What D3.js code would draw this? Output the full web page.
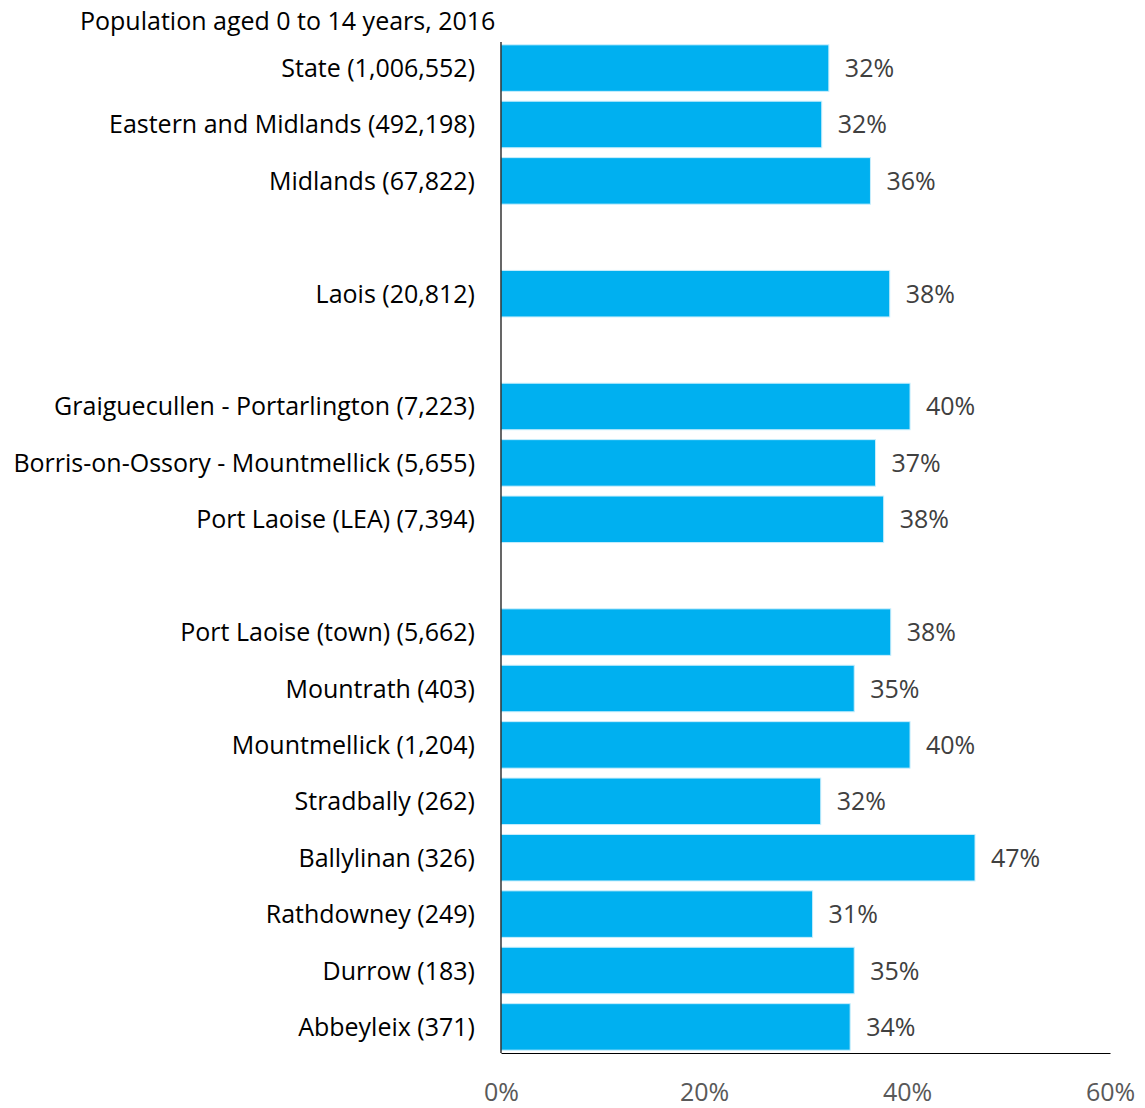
<!DOCTYPE html>
<html>
<head>
<meta charset="utf-8">
<script src="https://cdn.jsdelivr.net/npm/d3@7"></script>
<style>
  body { margin: 0; background: #fff; }
  svg text { font-family: "Open Sans", Lato, sans-serif; }
</style>
</head>
<body>
<svg id="chart" width="1145" height="1108"></svg>
<script>
// Areas (with population aged 0-14 in brackets); empty strings are spacer rows
const areas = [
  "State (1,006,552)",
  "Eastern and Midlands (492,198)",
  "Midlands (67,822)",
  "",
  "Laois (20,812)",
  "",
  "Graiguecullen - Portarlington (7,223)",
  "Borris-on-Ossory - Mountmellick (5,655)",
  "Port Laoise (LEA) (7,394)",
  "",
  "Port Laoise (town) (5,662)",
  "Mountrath (403)",
  "Mountmellick (1,204)",
  "Stradbally (262)",
  "Ballylinan (326)",
  "Rathdowney (249)",
  "Durrow (183)",
  "Abbeyleix (371)"
];
// Share of population aged 0 to 14 (null = spacer row)
const shares = [
  0.323, 0.316, 0.364, null, 0.383, null,
  0.403, 0.369, 0.377, null,
  0.384, 0.348, 0.403, 0.315, 0.467, 0.307, 0.348, 0.344
];
const xTicks = [0, 0.2, 0.4, 0.6];
const title = "Population aged 0 to 14 years, 2016";

const svg = d3.select("#chart");
const plotLeft = 501, plotRight = 1110, plotTop = 42, plotBottom = 1053;
const fontSize = 25;

const rows = areas.map((name, i) => ({ key: "r" + i, name, value: shares[i] }));

const x = d3.scaleLinear().domain([0, 0.6]).range([plotLeft, plotRight]);
const y = d3.scaleBand().domain(rows.map(d => d.key))
  .range([plotTop, plotBottom]).paddingInner(0.175).paddingOuter(0.05);

const pct = d3.format(".0%");

// Title
svg.append("text")
  .attr("x", 80).attr("y", 30)
  .attr("font-size", fontSize).attr("fill", "#000")
  .text(title);

// Bars
const data = rows.filter(d => d.value != null);
svg.append("g").selectAll("rect").data(data).join("rect")
  .attr("x", x(0))
  .attr("y", d => y(d.key))
  .attr("width", d => x(d.value) - x(0))
  .attr("height", y.bandwidth())
  .attr("fill", "#00B0F0")
  .attr("stroke", "#c9eefc")
  .attr("stroke-width", 1);

// Value labels
svg.append("g").selectAll("text").data(data).join("text")
  .attr("x", d => x(d.value) + 16)
  .attr("y", d => y(d.key) + y.bandwidth() / 2)
  .attr("dy", "0.36em")
  .attr("font-size", fontSize).attr("fill", "#404040")
  .text(d => pct(d.value));

// Category labels
svg.append("g").selectAll("text").data(rows.filter(d => d.name)).join("text")
  .attr("x", plotLeft - 26)
  .attr("y", d => y(d.key) + y.bandwidth() / 2)
  .attr("dy", "0.36em")
  .attr("text-anchor", "end")
  .attr("font-size", fontSize).attr("fill", "#000")
  .text(d => d.name);

// X axis
const xAxis = svg.append("g")
  .attr("transform", `translate(0,${plotBottom})`)
  .call(d3.axisBottom(x).tickValues(xTicks).tickFormat(pct).tickSize(0).tickPadding(30));
xAxis.select(".domain").attr("stroke", "#000").attr("stroke-width", 1.2);
xAxis.selectAll(".tick text")
  .attr("font-size", fontSize).attr("fill", "#595959")
  .attr("font-family", "'Open Sans', Lato, sans-serif");

// Y axis line
svg.append("line")
  .attr("x1", plotLeft).attr("x2", plotLeft)
  .attr("y1", plotTop).attr("y2", plotBottom)
  .attr("stroke", "#000").attr("stroke-width", 1.2);
</script>
</body>
</html>
